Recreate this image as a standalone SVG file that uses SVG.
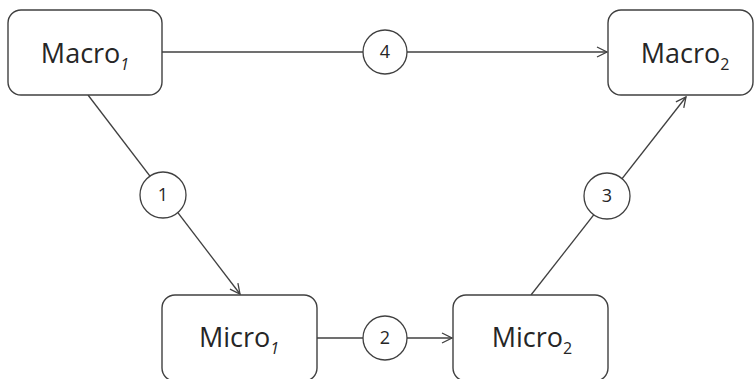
<svg xmlns="http://www.w3.org/2000/svg" width="754" height="379" viewBox="0 0 754 379">
<defs>
<style>
.box{fill:#fff;stroke:#404040;stroke-width:1.4}
.lbl{font-family:"Open Sans","Liberation Sans",sans-serif;font-size:27px;fill:#262626;text-anchor:middle}
.sub{font-size:16px}
.edge{stroke:#404040;stroke-width:1.3;fill:none}
.num{fill:#fff;stroke:#404040;stroke-width:1.3}
.nt{font-family:"Open Sans","Liberation Sans",sans-serif;font-size:18px;fill:#262626;text-anchor:middle}
</style>
<marker id="arr" viewBox="0 0 12 12" refX="11" refY="6" markerWidth="12" markerHeight="12" markerUnits="userSpaceOnUse" orient="auto">
<path d="M1,1 L11,6 L1,11" fill="none" stroke="#404040" stroke-width="1.3"/>
</marker>
</defs>
<rect width="754" height="379" fill="#fff"/>
<g id="connectors">
<line class="edge" x1="162" y1="52" x2="607" y2="52" marker-end="url(#arr)"/>
<line class="edge" x1="88" y1="95" x2="240" y2="294" marker-end="url(#arr)"/>
<line class="edge" x1="317" y1="338" x2="452" y2="338" marker-end="url(#arr)"/>
<line class="edge" x1="531" y1="295" x2="686" y2="97" marker-end="url(#arr)"/>
<g id="c4"><circle class="num" cx="385" cy="52" r="22"/><text class="nt" x="385" y="58">4</text></g>
<g id="c1"><circle class="num" cx="163" cy="195" r="23"/><text class="nt" x="163" y="201">1</text></g>
<g id="c2"><circle class="num" cx="385" cy="338" r="22"/><text class="nt" x="385" y="344">2</text></g>
<g id="c3"><circle class="num" cx="607" cy="196" r="23"/><text class="nt" x="607" y="202">3</text></g>
</g>
<g id="macro1"><rect class="box" x="8" y="10" width="154" height="85" rx="13"/><text class="lbl" x="85" y="63">Macro<tspan class="sub" font-style="italic" dy="7">1</tspan></text></g>
<g id="macro2"><rect class="box" x="608" y="10" width="145" height="85" rx="13"/><text class="lbl" x="685" y="63">Macro<tspan class="sub" dy="7">2</tspan></text></g>
<g id="micro1"><rect class="box" x="162" y="295" width="155" height="86" rx="13"/><text class="lbl" x="239" y="347">Micro<tspan class="sub" font-style="italic" dy="7">1</tspan></text></g>
<g id="micro2"><rect class="box" x="453" y="295" width="155" height="86" rx="13"/><text class="lbl" x="532" y="347">Micro<tspan class="sub" dy="7">2</tspan></text></g>
</svg>
